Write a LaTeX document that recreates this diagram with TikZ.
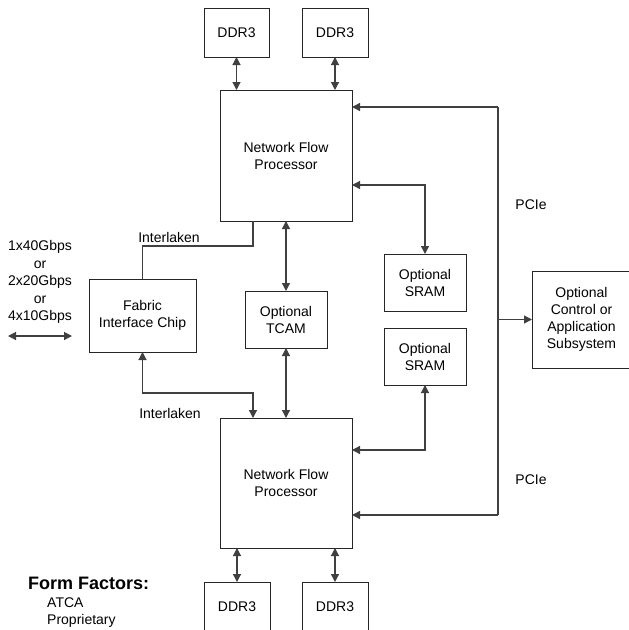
\documentclass[tikz,border=0pt]{standalone}
\usepackage{fontspec}
\setmainfont{Liberation Sans}
\usetikzlibrary{arrows.meta}
\begin{document}
\begin{tikzpicture}[x=1pt,y=-1pt,
  box/.style={draw=black!85,line width=1pt,align=center,inner sep=0pt,outer sep=0pt,
    font=\fontsize{14}{17}\selectfont},
  conn/.style={draw=black!75,line width=1.2pt},
  tip/.tip={Triangle[length=8pt,width=8pt]},
  lbl/.style={font=\fontsize{14}{17}\selectfont,inner sep=0pt,align=center}]
\useasboundingbox (0,0) rectangle (629,630);
\clip (0,0) rectangle (629,630);
% boxes
\node[box,minimum width=65pt,minimum height=49pt] (ddrTL) at (236.5,32.5) {DDR3};
\node[box,minimum width=66pt,minimum height=49pt] (ddrTR) at (335,32.5) {DDR3};
\node[box,minimum width=132pt,minimum height=131pt] (nfp1) at (286,155.5) {Network Flow\\Processor};
\node[box,minimum width=132pt,minimum height=130pt] (nfp2) at (286,483) {Network Flow\\Processor};
\node[box,minimum width=66pt,minimum height=49pt] (ddrBL) at (237,606.5) {DDR3};
\node[box,minimum width=66pt,minimum height=49pt] (ddrBR) at (335,606.5) {DDR3};
\node[box,minimum width=107pt,minimum height=73pt] (fic) at (142.5,315.5) {Fabric\\Interface Chip};
\node[box,minimum width=82pt,minimum height=57pt] (tcam) at (286,319.5) {Optional\\TCAM};
\node[box,minimum width=82pt,minimum height=57pt] (sram1) at (425,282.5) {Optional\\SRAM};
\node[box,minimum width=82pt,minimum height=57pt] (sram2) at (425,356.5) {Optional\\SRAM};
\node[box,minimum width=99pt,minimum height=97pt] (ctrl) at (581.5,319.5) {Optional\\Control or\\Application\\Subsystem};
% coordinates
\coordinate (ptop) at (498,107);
\coordinate (pbot) at (498,515);
\coordinate (ilt) at (253,246);
\coordinate (ilb) at (253,393);
\coordinate (la) at (8,336);
\coordinate (lb) at (72,336);
% connectors
\draw[conn,tip-tip] (ddrTL.south) -- (ddrTL.south |- nfp1.north);
\draw[conn,tip-tip] (ddrTR.south) -- (ddrTR.south |- nfp1.north);
\draw[conn,tip-tip] (nfp1.south) -- (tcam.north);
\draw[conn,tip-tip] (tcam.south) -- (nfp2.north);
\draw[conn,tip-tip] (ddrBL.north |- nfp2.south) -- (ddrBL.north);
\draw[conn,tip-tip] (ddrBR.north |- nfp2.south) -- (ddrBR.north);
\draw[conn,tip-tip] ([yshift=-29.5pt]nfp1.east) -| (sram1.north);
\draw[conn,tip-tip] (sram2.south) |- ([yshift=33pt]nfp2.east);
\draw[conn] (ptop) -- (pbot);
\draw[conn,-tip] (ptop) -- (ptop -| nfp1.east);
\draw[conn,-tip] (pbot) -- (pbot -| nfp2.east);
\draw[conn,-tip] (ptop |- ctrl.west) -- (ctrl.west);
\draw[conn] (nfp1.south -| ilt) -- (ilt) -| (fic.north);
\draw[conn,tip-tip] (fic.south) |- (ilb) -- (ilb |- nfp2.north);
\draw[conn,tip-tip] (la) -- (lb);
% labels
\node[lbl] (il1) at (169,237) {Interlaken};
\node[lbl] (il2) at (170,413) {Interlaken};
\node[lbl] (pc1) at (531,205) {PCIe};
\node[lbl] (pc2) at (531,480) {PCIe};
\node[lbl,font=\fontsize{14}{17.5}\selectfont] (rates) at (40,282) {1x40Gbps\\or\\2x20Gbps\\or\\4x10Gbps};
\node[lbl,anchor=west,font=\fontsize{18}{20}\bfseries\selectfont] (ff) at (28,583) {Form Factors:};
\node[lbl,anchor=west] (ff1) at (47,603) {ATCA};
\node[lbl,anchor=west] (ff2) at (47,621) {Proprietary};
\end{tikzpicture}
\end{document}
